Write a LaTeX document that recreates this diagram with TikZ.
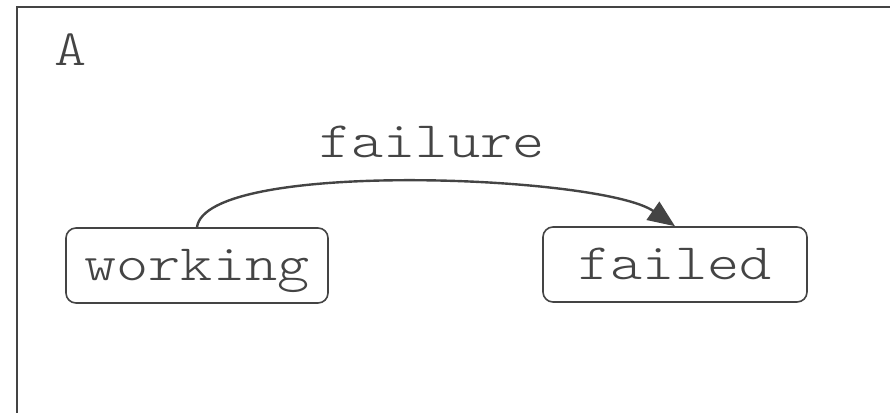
\documentclass[tikz,border=0pt]{standalone}
\usepackage{fontspec}
\setmonofont{Latin Modern Mono Light}[FakeStretch=1.2]
\usetikzlibrary{arrows.meta}
\definecolor{ink}{HTML}{444444}
\begin{document}
\begin{tikzpicture}[x=1pt,y=-1pt,
  lbl/.style={font=\ttfamily\fontsize{51}{51}\selectfont, text=ink, inner sep=0pt},
  state/.style={lbl, draw=ink, line width=1.6pt, rounded corners=10pt,
    minimum height=75pt, text height=34pt, text depth=5pt},
  trans/.style={draw=ink, line width=2.4pt,
    -{Triangle[length=27pt,width=22pt]}}]
  \clip (0,0) rectangle (890,412);
  \useasboundingbox (0,0) rectangle (890,412);
  % enclosing frame, running off the right and bottom edges
  \draw[ink, line width=2pt] (16.5,430) |- (910,7.5);
  \node[lbl, anchor=base] (name) at (71,66) {A};
  % states
  \node[state, minimum width=262pt] (working) at (197,265.5) {working};
  \node[state, minimum width=264pt] (failed) at (675,264.5) {failed};
  % transition
  \draw[trans] (working.north) .. controls +(9,-68) and +(-73,-51) .. (failed.north);
  \node[lbl, anchor=base] (failure) at (432,157) {failure};
\end{tikzpicture}
\end{document}
